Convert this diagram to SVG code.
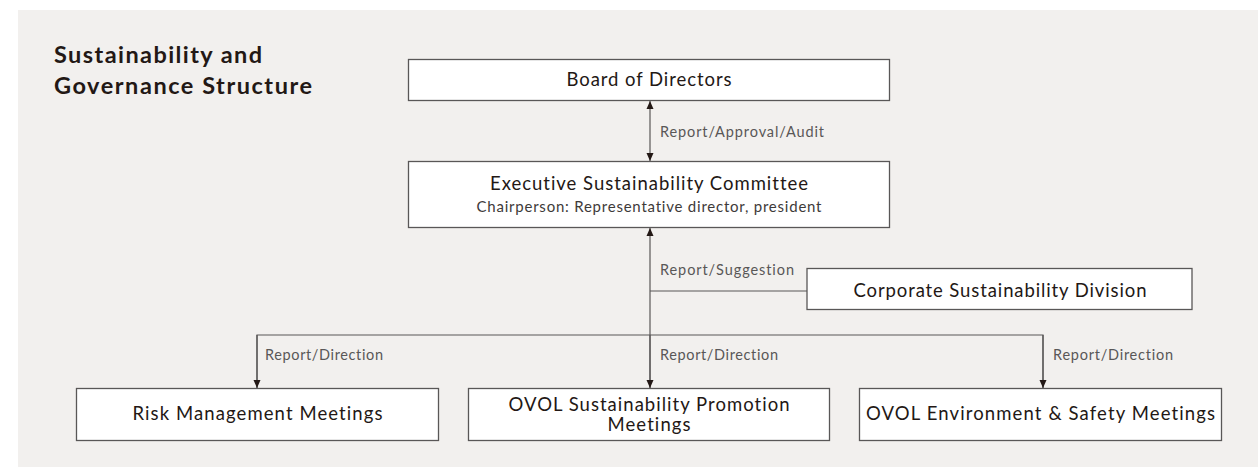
<svg xmlns="http://www.w3.org/2000/svg" width="1258" height="467" viewBox="0 0 1258 467">
<defs>
<marker id="ah" viewBox="0 0 8 8" refX="8" refY="4" markerWidth="8" markerHeight="8" markerUnits="userSpaceOnUse" orient="auto-start-reverse">
<path d="M0,0.5 L8,4 L0,7.5 Z" fill="#231815"/>
</marker>
<style>
text{font-variant-ligatures:none}
.box{fill:#ffffff;stroke:#595757;stroke-width:1.3}
.t{font-family:Lato,"Liberation Sans",sans-serif;fill:#231815;text-anchor:middle}
.big{font-size:18.5px}
.sm{font-size:15px;fill:#3e3a39}
.lbl{font-family:Lato,"Liberation Sans",sans-serif;font-size:14.5px;fill:#595757}
.ln{fill:none;stroke:#595757;stroke-width:1.2}
.title{font-family:Lato,"Liberation Sans",sans-serif;font-size:23.5px;font-weight:bold;fill:#231815}
</style>
</defs>
<rect x="18" y="10" width="1240" height="457" fill="#f2f0ee"/>
<text class="title" x="54" y="63" textLength="208" lengthAdjust="spacing">Sustainability and</text>
<text class="title" x="54" y="94" textLength="258" lengthAdjust="spacing">Governance Structure</text>
<g id="connectors">
<line class="ln" x1="650" y1="101" x2="650" y2="161" marker-start="url(#ah)" marker-end="url(#ah)"/>
<line class="ln" x1="650" y1="388" x2="650" y2="228" marker-end="url(#ah)"/>
<line class="ln" x1="650" y1="291" x2="807" y2="291"/>
<polyline class="ln" points="257,388 257,335 1043,335 1043,388" />
<line class="ln" x1="257" y1="335" x2="257" y2="388" marker-end="url(#ah)"/>
<line class="ln" x1="1043" y1="335" x2="1043" y2="388" marker-end="url(#ah)"/>
<line class="ln" x1="650" y1="335" x2="650" y2="388" marker-end="url(#ah)"/>
<text class="lbl" x="660" y="137" textLength="164" lengthAdjust="spacing">Report/Approval/Audit</text>
<text class="lbl" x="660" y="275" textLength="134" lengthAdjust="spacing">Report/Suggestion</text>
<text class="lbl" x="265" y="360" textLength="118" lengthAdjust="spacing">Report/Direction</text>
<text class="lbl" x="660" y="360" textLength="118" lengthAdjust="spacing">Report/Direction</text>
<text class="lbl" x="1053" y="360" textLength="120" lengthAdjust="spacing">Report/Direction</text>
</g>
<g id="board">
<rect class="box" x="408.5" y="59.5" width="481" height="41"/>
<text class="t big" x="649" y="86" textLength="165" lengthAdjust="spacing">Board of Directors</text>
</g>
<g id="executive">
<rect class="box" x="408.5" y="161.5" width="481" height="66"/>
<text class="t big" x="649" y="190" textLength="318" lengthAdjust="spacing">Executive Sustainability Committee</text>
<text class="t sm" x="649" y="212" textLength="345" lengthAdjust="spacing">Chairperson: Representative director, president</text>
</g>
<g id="corporate">
<rect class="box" x="807" y="268.5" width="385" height="41"/>
<text class="t big" x="1000" y="297" textLength="293" lengthAdjust="spacing">Corporate Sustainability Division</text>
</g>
<g id="risk">
<rect class="box" x="76.5" y="388.5" width="362" height="52"/>
<text class="t big" x="257.5" y="420" textLength="250" lengthAdjust="spacing">Risk Management Meetings</text>
</g>
<g id="promotion">
<rect class="box" x="468.5" y="388.5" width="361" height="52"/>
<text class="t big" x="649" y="411" textLength="281" lengthAdjust="spacing">OVOL Sustainability Promotion</text>
<text class="t big" x="649" y="431" textLength="83" lengthAdjust="spacing">Meetings</text>
</g>
<g id="environment">
<rect class="box" x="859.5" y="388.5" width="362" height="52"/>
<text class="t big" x="1040.5" y="420" textLength="349" lengthAdjust="spacing">OVOL Environment &amp; Safety Meetings</text>
</g>
</svg>
